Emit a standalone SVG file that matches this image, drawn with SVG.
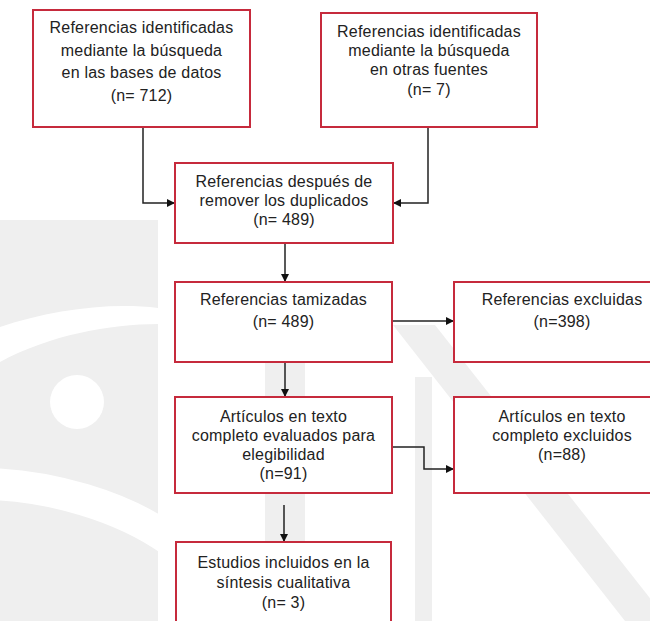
<svg xmlns="http://www.w3.org/2000/svg" width="650" height="621" viewBox="0 0 650 621">
<style>
.box{fill:#ffffff;stroke:#c62a3c;stroke-width:2}
.t{font-family:"Liberation Sans",Arial,sans-serif;font-size:16px;letter-spacing:0.2px;fill:#222222;text-anchor:middle}
.c{fill:none;stroke:#222;stroke-width:1.5}
.wm{fill:#efefef}
</style>
<defs>
<marker id="ah" viewBox="0 0 10 10" refX="10" refY="5" markerWidth="8" markerHeight="8" markerUnits="userSpaceOnUse" orient="auto">
<path d="M0,0 L10,5 L0,10 Z" fill="#111"/>
</marker>
</defs>
<rect width="650" height="621" fill="#ffffff"/>
<g id="watermark">
<rect class="wm" x="0" y="220" width="158" height="401"/>
<path d="M0,327 C50,310 110,302 158,308 L158,324 C110,324 50,335 0,362 Z" fill="#ffffff"/>
<circle cx="77" cy="402" r="27" fill="#ffffff"/>
<path d="M-10,484 C50,486 120,505 170,540" fill="none" stroke="#ffffff" stroke-width="32"/>
<rect class="wm" x="265" y="362" width="40" height="259"/>
<rect class="wm" x="415" y="377" width="17" height="244"/>
<polygon class="wm" points="393,325 435,325 668,621 625,621"/>
</g>
<g id="connectors">
<path class="c" d="M143,127 V203 H175" marker-end="url(#ah)"/>
<path class="c" d="M428,127 V203 H393" marker-end="url(#ah)"/>
<path class="c" d="M285,243 V282" marker-end="url(#ah)"/>
<path class="c" d="M392,321 H454" marker-end="url(#ah)"/>
<path class="c" d="M285,362 V397" marker-end="url(#ah)"/>
<path class="c" d="M392,447 H424 V469 H454" marker-end="url(#ah)"/>
<path class="c" d="M284,505 V542" marker-end="url(#ah)"/>
</g>
<g id="n1">
<rect class="box" x="33" y="10" width="217" height="117"/>
<text class="t" x="141.5" y="33">Referencias identificadas</text>
<text class="t" x="141.5" y="55.5">mediante la búsqueda</text>
<text class="t" x="141.5" y="78">en las bases de datos</text>
<text class="t" x="141.5" y="101">(n= 712)</text>
</g>
<g id="n2">
<rect class="box" x="321" y="13" width="216" height="114"/>
<text class="t" x="429" y="37">Referencias identificadas</text>
<text class="t" x="429" y="56">mediante la búsqueda</text>
<text class="t" x="429" y="75">en otras fuentes</text>
<text class="t" x="429" y="95">(n= 7)</text>
</g>
<g id="n3">
<rect class="box" x="175" y="163" width="218" height="80"/>
<text class="t" x="284" y="187">Referencias después de</text>
<text class="t" x="284" y="206">remover los duplicados</text>
<text class="t" x="284" y="225">(n= 489)</text>
</g>
<g id="n4">
<rect class="box" x="175" y="282" width="217" height="80"/>
<text class="t" x="283.5" y="305">Referencias tamizadas</text>
<text class="t" x="283.5" y="327">(n= 489)</text>
</g>
<g id="n5">
<rect class="box" x="454" y="282" width="217" height="80"/>
<text class="t" x="562" y="305">Referencias excluidas</text>
<text class="t" x="562" y="327">(n=398)</text>
</g>
<g id="n6">
<rect class="box" x="175" y="397" width="217" height="96"/>
<text class="t" x="283.5" y="422">Artículos en texto</text>
<text class="t" x="283.5" y="441">completo evaluados para</text>
<text class="t" x="283.5" y="460">elegibilidad</text>
<text class="t" x="283.5" y="479">(n=91)</text>
</g>
<g id="n7">
<rect class="box" x="454" y="397" width="217" height="96"/>
<text class="t" x="562" y="422">Artículos en texto</text>
<text class="t" x="562" y="441">completo excluidos</text>
<text class="t" x="562" y="460">(n=88)</text>
</g>
<g id="n8">
<rect class="box" x="176" y="542" width="215" height="90"/>
<text class="t" x="283.5" y="568">Estudios incluidos en la</text>
<text class="t" x="283.5" y="588">síntesis cualitativa</text>
<text class="t" x="283.5" y="608">(n= 3)</text>
</g>
</svg>
